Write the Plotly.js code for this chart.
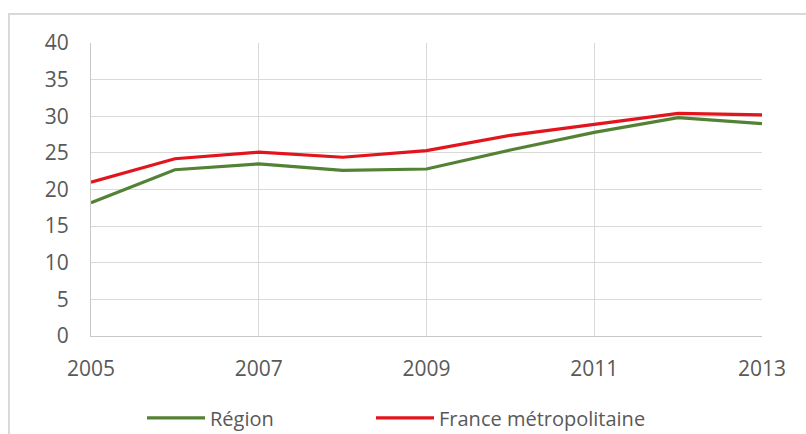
<!DOCTYPE html>
<html>
<head>
<meta charset="utf-8">
<script src="https://cdn.plot.ly/plotly-3.0.1.min.js"></script>
<style>
  html, body { margin: 0; padding: 0; background: #ffffff; }
  #wrap { position: relative; width: 806px; height: 434px; overflow: hidden; }
  #frame { position: absolute; left: 8px; top: 13px; width: 820px; height: 440px;
           border-left: 2px solid #d9d9d9; border-top: 2px solid #d9d9d9; box-sizing: border-box; }
  #chart { position: absolute; left: 0; top: 0; width: 806px; height: 434px; }
</style>
</head>
<body>
<div id="wrap">
  <div id="frame"></div>
  <div id="chart"></div>
</div>
<script>
const years = [2005, 2006, 2007, 2008, 2009, 2010, 2011, 2012, 2013];
const region = [18.2, 22.7, 23.5, 22.6, 22.8, 25.4, 27.8, 29.8, 29.0];
const france = [21.0, 24.2, 25.1, 24.4, 25.3, 27.4, 28.9, 30.4, 30.2];
const seriesNames = ["Région", "France métropolitaine"];
const xTicks = [2005, 2007, 2009, 2011, 2013];
const yTicks = [0, 5, 10, 15, 20, 25, 30, 35, 40];

const traces = [
  { x: years, y: region, name: seriesNames[0], type: "scatter", mode: "lines",
    line: { color: "#548235", width: 3.2 }, legend: "legend" },
  { x: years, y: france, name: seriesNames[1], type: "scatter", mode: "lines",
    line: { color: "#e3141c", width: 3.2 }, legend: "legend2" }
];

const tickFont = { family: "Open Sans, Noto Sans, sans-serif", size: 21, color: "#595959" };
const legFont = { family: "Open Sans, Noto Sans, sans-serif", size: 20, color: "#595959" };

const layout = {
  width: 806, height: 434,
  margin: { l: 91, r: 44, t: 43, b: 98, autoexpand: false },
  paper_bgcolor: "rgba(0,0,0,0)",
  plot_bgcolor: "rgba(0,0,0,0)",
  showlegend: true,
  xaxis: {
    range: [2005, 2013], tickvals: xTicks, ticktext: xTicks.map(String),
    showgrid: true, gridcolor: "#d9d9d9", gridwidth: 1,
    showline: true, linecolor: "#c8c8c8", linewidth: 1,
    zeroline: false, ticks: "", ticklabelstandoff: 14,
    tickfont: tickFont, fixedrange: true
  },
  yaxis: {
    range: [0, 40], tickvals: yTicks, ticktext: yTicks.map(String),
    showgrid: true, gridcolor: "#d9d9d9", gridwidth: 1,
    showline: true, linecolor: "#c8c8c8", linewidth: 1,
    zeroline: false, ticks: "", ticklabelstandoff: 17,
    tickfont: tickFont, fixedrange: true
  },
  legend: {
    orientation: "h", xref: "container", yref: "container",
    x: 0.1762, xanchor: "left", y: 0.037, yanchor: "middle",
    font: legFont, bgcolor: "rgba(0,0,0,0)", itemwidth: 58
  },
  legend2: {
    orientation: "h", xref: "container", yref: "container",
    x: 0.4603, xanchor: "left", y: 0.037, yanchor: "middle",
    font: legFont, bgcolor: "rgba(0,0,0,0)", itemwidth: 58
  }
};

Plotly.newPlot("chart", traces, layout, { displayModeBar: false, staticPlot: true });
</script>
</body>
</html>
